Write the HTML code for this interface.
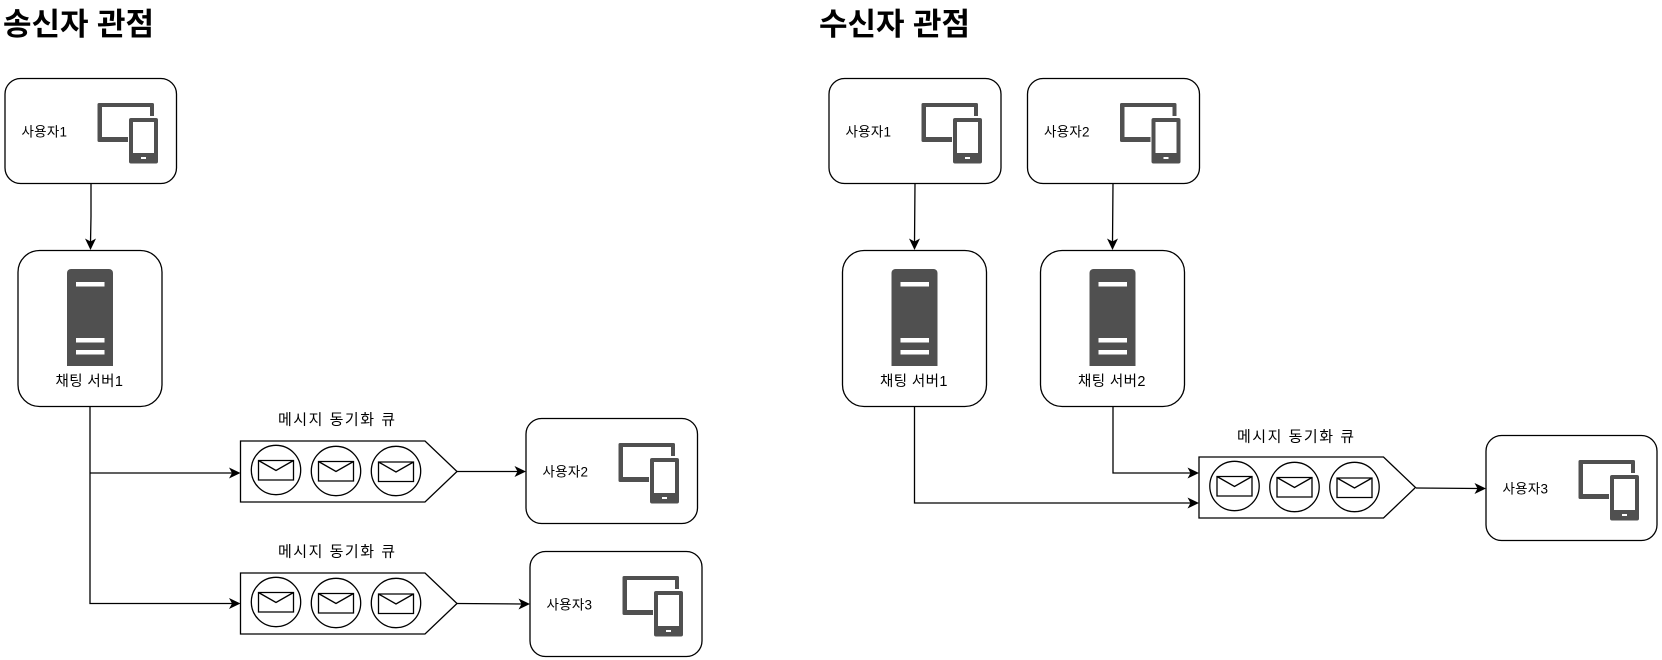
<!DOCTYPE html>
<html lang="ko"><head><meta charset="utf-8"><title>송신자 관점 / 수신자 관점</title>
<style>
html,body{margin:0;padding:0;background:#fff;width:1662px;height:660px;overflow:hidden}
svg{display:block}
text{font-family:"Liberation Sans","Noto Sans CJK KR",sans-serif;fill:#000}
.h{font-size:31px;font-weight:700}
.t{font-size:13.500px}
.s{font-size:14.500px}
.q{font-size:15px}
.b{fill:#fff;stroke:#000;stroke-width:1.300}
.l{fill:none;stroke:#000;stroke-width:1.300}
.a{fill:#000;stroke:none}
.o{fill:#505050}
.w{fill:#fff}
</style></head><body>
<svg width="1662" height="660" viewBox="0 0 1662 660" xmlns="http://www.w3.org/2000/svg">
<defs>
<g id="dev">
<path class="o" d="M94 24h53.500a1.500 1.500 0 0 1 1.500 1.500V37h-4V28h-48v30h26v5H94a1.500 1.500 0 0 1-1.500-1.500V25.500A1.500 1.500 0 0 1 94 24z"/>
<rect class="o" x="124" y="39" width="29" height="45.500" rx="2"/>
<rect class="w" x="128" y="43" width="21" height="31"/>
<rect class="w" x="136" y="78" width="5" height="2"/>
</g>
<g id="srv">
<path class="o" d="M53.500 269h38a4 4 0 0 1 4 4v93H49.500v-93a4 4 0 0 1 4-4z"/>
<rect class="w" x="58.500" y="282" width="28.500" height="4.500"/>
<rect class="w" x="58.500" y="338" width="28.500" height="4.500"/>
<rect class="w" x="58.500" y="350" width="28.500" height="4.500"/>
</g>
<g id="queue">
<path class="b" d="M240.500 441H425l32 30.500L425 502H240.500z"/>
<circle class="b" cx="276" cy="470" r="24.700"/>
<circle class="b" cx="336" cy="471" r="24.700"/>
<circle class="b" cx="396" cy="471" r="24.700"/>
<path class="b" d="M258.500 460.500h35v19.500h-35zM258.500 460.500L276 470.500L293.500 460.500"/>
<path class="b" d="M318.500 461.500h35v19.500h-35zM318.500 461.500L336 471.500L353.500 461.500"/>
<path class="b" d="M378.500 462h35v19.500h-35zM378.500 462L396 472L413.500 462"/>
</g>
</defs>

<text class="h" x="3" y="35" textLength="151" lengthAdjust="spacing">송신자 관점</text>
<text class="h" x="819" y="35" textLength="151" lengthAdjust="spacing">수신자 관점</text>

<!-- left connectors -->
<path class="l" d="M91 183V216.500L90.500 243"/>
<path class="a" d="M90.500 250l-5.500-11.500 5.500 3 5.500-3z"/>
<path class="l" d="M90 406.500V603.500H233M90 473H233"/>
<path class="a" d="M240.500 473l-11.500-5.500 3 5.500-3 5.500zM240.500 603.500l-11.500-5.500 3 5.500-3 5.500z"/>
<path class="l" d="M457 471.500H519"/>
<path class="a" d="M526 471.500l-11.500-5.500 3 5.500-3 5.500z"/>
<path class="l" d="M457 603.500L523 604"/>
<path class="a" d="M530 604l-11.500-5.500 3 5.500-3 5.500z"/>

<!-- right connectors -->
<path class="l" d="M915 183L914.500 243M1113 183L1112.500 243"/>
<path class="a" d="M914.500 250l-5.500-11.500 5.500 3 5.500-3zM1112.500 250l-5.500-11.500 5.500 3 5.500-3z"/>
<path class="l" d="M914.500 406.500V503H1192M1113 406.500V473H1192"/>
<path class="a" d="M1199 473l-11.500-5.500 3 5.500-3 5.500zM1199 503l-11.500-5.500 3 5.500-3 5.500z"/>
<path class="l" d="M1416 488L1479 488.500"/>
<path class="a" d="M1486 488.500l-11.500-5.500 3 5.500-3 5.500z"/>

<!-- left nodes -->
<g transform="translate(5 79)"><rect class="b" x="0" y="-.5" width="171.500" height="105" rx="15.600"/><use href="#dev"/><text class="t" x="16.500" y="57.500" textLength="45.500" lengthAdjust="spacing">사용자1</text></g>
<rect class="b" x="18" y="250.500" width="144" height="156" rx="21.600"/>
<use href="#srv" transform="translate(17.500 0)"/>
<text class="s" x="55.500" y="386" textLength="67.500" lengthAdjust="spacing">채팅 서버1</text>
<text class="q" x="278" y="424.500" textLength="117" lengthAdjust="spacing">메시지 동기화 큐</text>
<use href="#queue"/>
<text class="q" x="278" y="556.500" textLength="117" lengthAdjust="spacing">메시지 동기화 큐</text>
<use href="#queue" transform="translate(0 132)"/>
<g transform="translate(526 419)"><rect class="b" x="0" y="-.5" width="171.500" height="105" rx="15.600"/><use href="#dev"/><text class="t" x="16.500" y="57.500" textLength="45.500" lengthAdjust="spacing">사용자2</text></g>
<g transform="translate(530 552)"><rect class="b" x="0" y="-.5" width="172" height="105" rx="15.600"/><use href="#dev"/><text class="t" x="16.500" y="57.500" textLength="45.500" lengthAdjust="spacing">사용자3</text></g>

<!-- right nodes -->
<g transform="translate(829 79)"><rect class="b" x="0" y="-.5" width="172" height="105" rx="15.600"/><use href="#dev"/><text class="t" x="16.500" y="57.500" textLength="45.500" lengthAdjust="spacing">사용자1</text></g>
<g transform="translate(1027.500 79)"><rect class="b" x="0" y="-.5" width="172" height="105" rx="15.600"/><use href="#dev"/><text class="t" x="16.500" y="57.500" textLength="45.500" lengthAdjust="spacing">사용자2</text></g>
<rect class="b" x="842.500" y="250.500" width="144" height="156" rx="21.600"/>
<use href="#srv" transform="translate(842 0)"/>
<text class="s" x="880" y="386" textLength="67.500" lengthAdjust="spacing">채팅 서버1</text>
<rect class="b" x="1040.500" y="250.500" width="144" height="156" rx="21.600"/>
<use href="#srv" transform="translate(1040 0)"/>
<text class="s" x="1078" y="386" textLength="67.500" lengthAdjust="spacing">채팅 서버2</text>
<text class="q" x="1237" y="441.500" textLength="117" lengthAdjust="spacing">메시지 동기화 큐</text>
<use href="#queue" transform="translate(958.500 16)"/>
<g transform="translate(1486 436)"><rect class="b" x="0" y="-.5" width="171" height="105" rx="15.600"/><use href="#dev"/><text class="t" x="16.500" y="57.500" textLength="45.500" lengthAdjust="spacing">사용자3</text></g>
</svg>
</body></html>
